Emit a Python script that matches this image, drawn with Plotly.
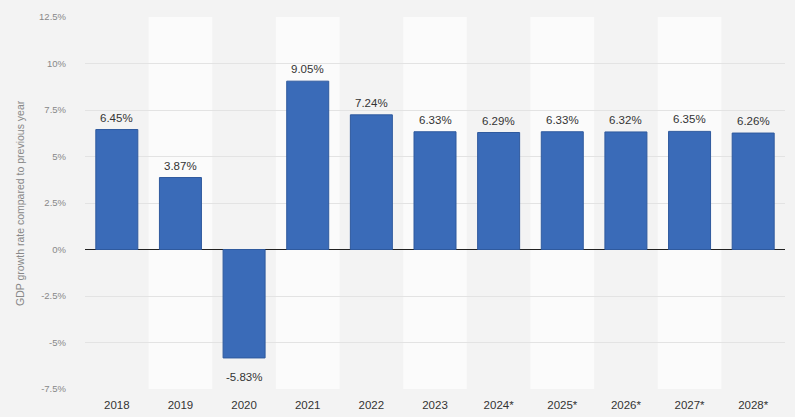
import plotly.graph_objects as go

categories = ["2018", "2019", "2020", "2021", "2022", "2023",
              "2024*", "2025*", "2026*", "2027*", "2028*"]
growth = [6.45, 3.87, -5.83, 9.05, 7.24, 6.33, 6.29, 6.33, 6.32, 6.35, 6.26]
y_ticks = [-7.5, -5, -2.5, 0, 2.5, 5, 7.5, 10, 12.5]
y_tick_labels = ["-7.5%", "-5%", "-2.5%", "0%", "2.5%", "5%", "7.5%", "10%", "12.5%"]
y_title = "GDP growth rate compared to previous year"

FONT = "Liberation Sans, Arial, sans-serif"
W, H = 795, 417
ML, MR, MT, MB = 85, 10, 17, 28

fig = go.Figure()
fig.add_trace(go.Bar(
    x=list(range(len(categories))), y=growth,
    marker=dict(color="#3a6bb8", line=dict(color="#2f5a9e", width=1)),
    width=0.66, hovertemplate="%{y:.2f}%<extra></extra>",
))

for i, c in enumerate(categories):
    if i % 2 == 1:
        fig.add_shape(type="rect", xref="x", yref="paper", x0=i - 0.5, x1=i + 0.5,
                      y0=0, y1=1, fillcolor="#fbfbfb", line=dict(width=0), layer="below")

for i, v in enumerate(growth):
    fig.add_annotation(
        x=i, y=v, text=f"{v:.2f}%", showarrow=False,
        yanchor="bottom" if v >= 0 else "top",
        yshift=4 if v >= 0 else -11,
        font=dict(family=FONT, size=11.5, color="#333333"),
    )

# rotated y-axis title placed at ~20px from the left edge
fig.add_annotation(
    xref="paper", yref="paper", x=(20 - ML) / (W - ML - MR), y=0.5,
    text=y_title, textangle=-90, showarrow=False, xanchor="center", yanchor="middle",
    font=dict(family=FONT, size=10.5, color="#888888"),
)

fig.update_layout(
    width=W, height=H,
    margin=dict(l=ML, r=MR, t=MT, b=MB, autoexpand=False),
    paper_bgcolor="#f3f3f3", plot_bgcolor="#f3f3f3",
    showlegend=False,
    font=dict(family=FONT, color="#555555"),
    xaxis=dict(
        tickmode="array", tickvals=list(range(len(categories))), ticktext=categories,
        showgrid=False, zeroline=False, showline=False, ticks="",
        tickfont=dict(size=11.5, color="#333333"), range=[-0.5, len(categories) - 0.5],
        automargin=False, ticklabelstandoff=7,
    ),
    yaxis=dict(
        range=[-7.5, 12.5], tickvals=y_ticks, ticktext=y_tick_labels,
        showgrid=True, gridcolor="#e3e3e3", gridwidth=1,
        zeroline=True, zerolinecolor="#222222", zerolinewidth=1,
        tickfont=dict(size=9.5, color="#888888"), ticklabelstandoff=18,
        automargin=False,
    ),
)

fig.write_html("out.html", config={"displayModeBar": False},
               post_script="document.body.style.margin='0';document.body.style.background='#f3f3f3';")
